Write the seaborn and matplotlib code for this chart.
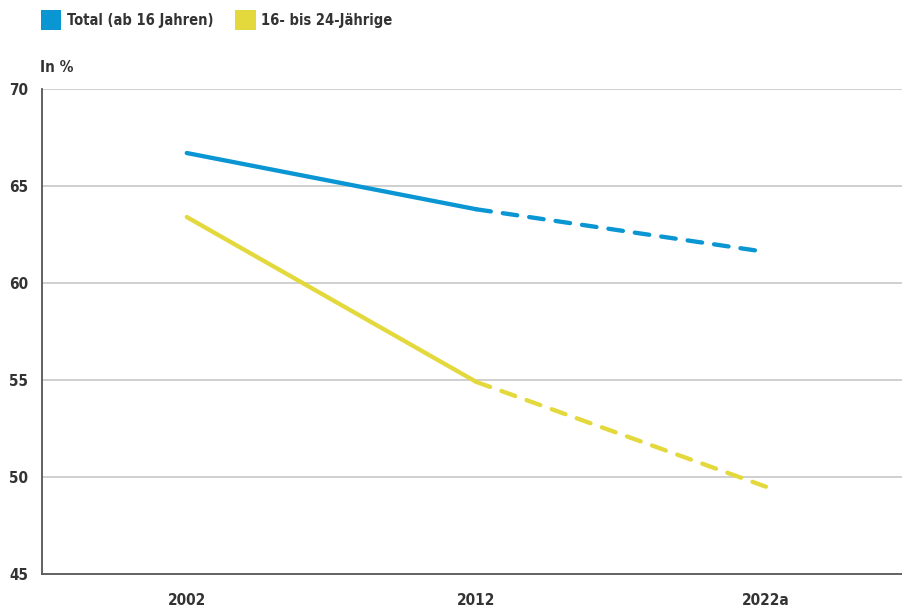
import matplotlib
matplotlib.use("Agg")
import matplotlib.pyplot as plt
from matplotlib.patches import Patch
import seaborn as sns
import pandas as pd

# Data
years = ["2002", "2012", "2022a"]
total = [66.7, 63.8, 61.6]
youth = [63.4, 54.9, 49.5]
series_names = ["Total (ab 16 Jahren)", "16- bis 24-Jährige"]
yticks = [45, 50, 55, 60, 65, 70]

BLUE = "#0a95d3"
YELLOW = "#e3d83c"
TEXT = "#333333"

sns.set_theme(style="white")
plt.rcParams["font.family"] = ["DejaVu Sans"]
plt.rcParams["font.stretch"] = "condensed"
plt.rcParams["font.weight"] = "bold"

fig = plt.figure(figsize=(9.02, 6.07), dpi=100)
ax = fig.add_axes([42 / 902, 33 / 607, 1 - 42 / 902, (574 - 89) / 607])

df = pd.DataFrame({
    "x": list(range(len(years))) * 2,
    "value": total + youth,
    "series": [series_names[0]] * 3 + [series_names[1]] * 3,
})

LW = 3.1
for name, color in zip(series_names, [BLUE, YELLOW]):
    sub = df[df["series"] == name]
    solid = sub[sub["x"] <= 1]
    dashed = sub[sub["x"] >= 1]
    sns.lineplot(data=solid, x="x", y="value", color=color, lw=LW, ax=ax,
                 legend=False)
    sns.lineplot(data=dashed, x="x", y="value", color=color, lw=LW, ax=ax,
                 dashes=[(3.4, 2.8)], style=dashed["series"], legend=False)

for line in ax.lines:
    line.set_solid_capstyle("round")
    line.set_dash_capstyle("round")

ax.set_xlim(-0.5, 2.47)
ax.set_ylim(45, 70)
ax.set_xticks(range(len(years)))
ax.set_xticklabels(years)
ax.set_yticks(yticks)
ax.set_yticklabels([str(t) for t in yticks])
ax.set_xlabel("")
ax.set_ylabel("")

for t in yticks[1:]:
    ax.axhline(t, color="#cccccc", lw=1.3, zorder=0)

for s in ["top", "right"]:
    ax.spines[s].set_visible(False)
for s in ["left", "bottom"]:
    ax.spines[s].set_color("#555555")
    ax.spines[s].set_linewidth(1.3)

ax.tick_params(axis="both", length=0, labelsize=11, labelcolor=TEXT)
ax.tick_params(axis="y", pad=10)
ax.tick_params(axis="x", pad=14)
for lab in ax.get_xticklabels() + ax.get_yticklabels():
    lab.set_fontweight("bold")

fig.text(40 / 902, 1 - 67 / 607, "In %", fontsize=11, fontweight="bold",
         color=TEXT, va="center", ha="left")

handles = [Patch(facecolor=BLUE, edgecolor="none"),
           Patch(facecolor=YELLOW, edgecolor="none")]
fig.legend(handles, series_names, loc="upper left",
           bbox_to_anchor=(28 / 902, 1 + 3 / 607), ncol=2, frameon=False,
           handlelength=1.38, handleheight=1.7, handletextpad=0.4,
           columnspacing=1.5, labelcolor=TEXT,
           prop={"weight": "bold", "size": 10.5, "stretch": "condensed"})

fig.savefig("out.png", dpi=100)
